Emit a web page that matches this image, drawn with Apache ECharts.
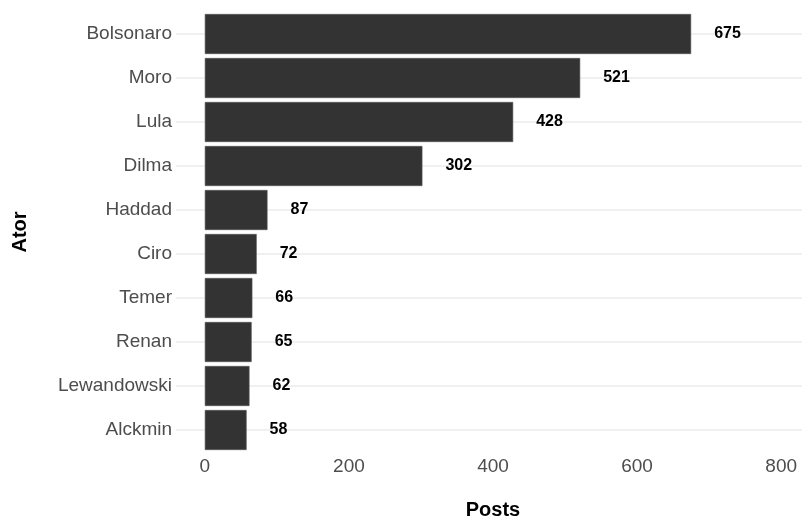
<!DOCTYPE html>
<html>
<head>
<meta charset="utf-8">
<script src="https://cdn.jsdelivr.net/npm/echarts@6/dist/echarts.min.js"></script>
<style>
html,body{margin:0;padding:0;background:#fff;}
#chart{width:802px;height:518px;}
</style>
</head>
<body>
<div id="chart"></div>
<script>
var categories = ['Bolsonaro','Moro','Lula','Dilma','Haddad','Ciro','Temer','Renan','Lewandowski','Alckmin'];
var posts = [675,521,428,302,87,72,66,65,62,58];
var xTicks = [0,200,400,600,800];

var FONT = "'Liberation Sans', Arial, Helvetica, sans-serif";
var chart = echarts.init(document.getElementById('chart'), null, {renderer:'canvas'});
chart.setOption({
  animation:false,
  backgroundColor:'#ffffff',
  grid:{left:176, width:634, top:12, height:440, containLabel:false, outerBoundsMode:'none'},
  xAxis:{
    type:'value', min:-40, max:840,
    name:'Posts', nameLocation:'middle', nameGap:48,
    nameTextStyle:{fontFamily:FONT, fontSize:20, fontWeight:'bold', color:'#000'},
    axisLine:{show:false}, axisTick:{show:false}, splitLine:{show:false},
    axisLabel:{customValues:xTicks, fontFamily:FONT, fontSize:19, color:'#4d4d4d', margin:5}
  },
  yAxis:{
    type:'category', data:categories, inverse:true,
    name:'Ator', nameLocation:'middle', nameGap:146, nameRotate:90,
    nameTextStyle:{fontFamily:FONT, fontSize:20, fontWeight:'bold', color:'#000'},
    axisLine:{show:false}, axisTick:{show:false, alignWithLabel:true},
    splitLine:{show:true, alignWithLabel:true, lineStyle:{color:'#ebebeb', width:1.5}},
    axisLabel:{fontFamily:FONT, fontSize:19, color:'#4d4d4d', margin:4}
  },
  series:[{
    type:'bar', data:posts, barWidth:40,
    itemStyle:{color:'#333333', borderColor:'#555555', borderWidth:0.6},
    label:{show:true, position:'right', distance:23, fontFamily:FONT, fontSize:16, fontWeight:'bold', color:'#000'}
  }]
});
</script>
</body>
</html>
